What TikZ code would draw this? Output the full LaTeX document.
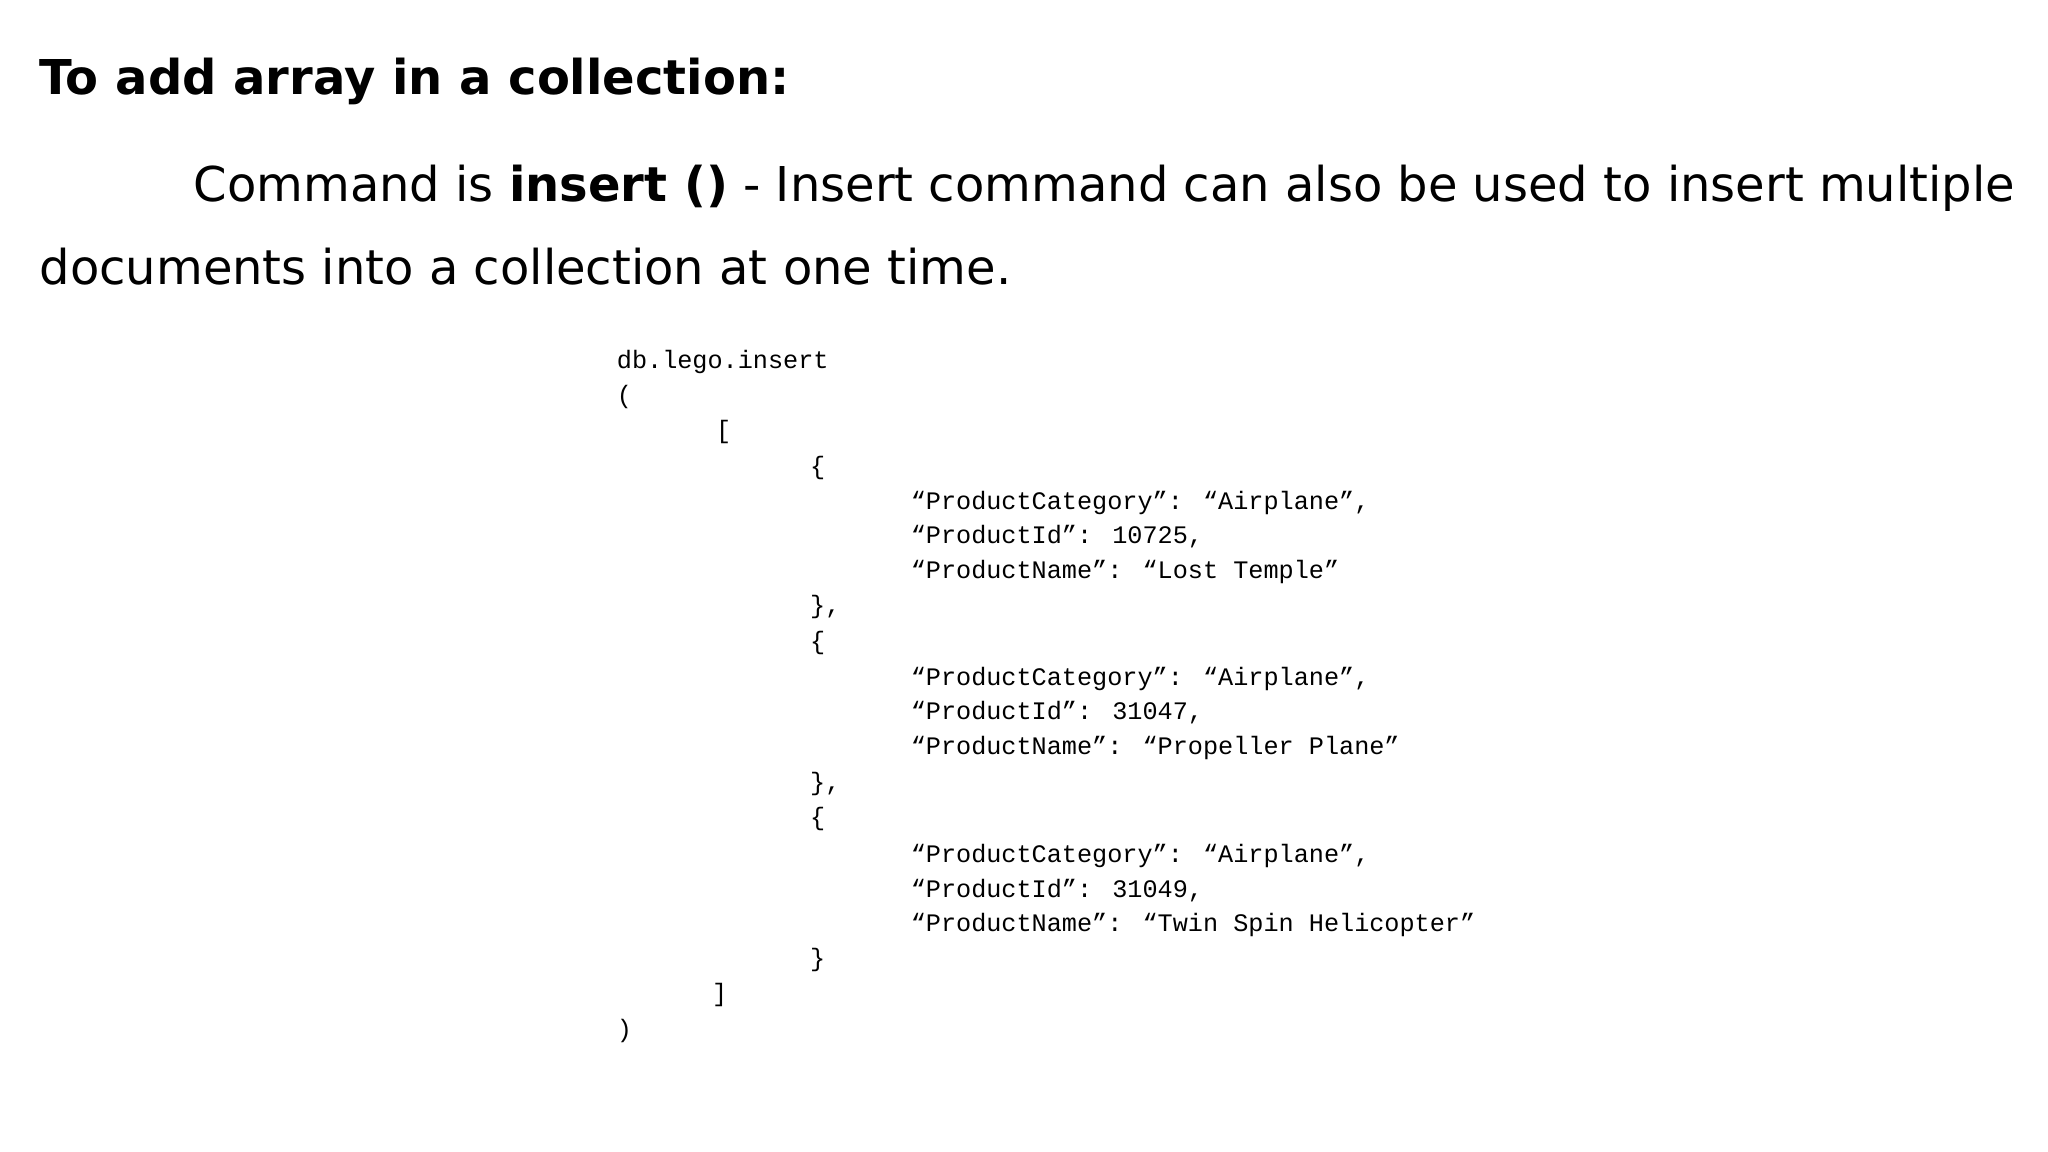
\documentclass[tikz,border=0pt]{standalone}
\usepackage{fontspec}
\setmainfont{DejaVu Sans}
\newfontfamily\codefont{Liberation Mono}
\begin{document}
\begin{tikzpicture}[x=0.6531pt,y=-0.6531pt,
  txt/.style={anchor=base west,inner sep=0pt,font=\fontsize{24}{28}\selectfont},
  code/.style={anchor=base west,inner sep=0pt,font=\codefont\fontsize{12.6}{14}\selectfont}]
\useasboundingbox[fill=white] (0,0) rectangle (1568,882);
\node[txt,font=\bfseries\fontsize{24}{28}\selectfont] (t) at (30,72) {To add array in a collection:};
\node[txt] (l1) at (148,154) {Command is \textbf{insert ()} - Insert command can also be used to insert multiple};
\node[txt] (l2) at (30,218) {documents into a collection at one time.};
\foreach \n/\xx/\yy/\s in {
 c1/472/282/{db.lego.insert},
 c2/472/309/{(},
 c3/548/336/{[},
 c4/620/363/{\{},
 c5/697/390/{“ProductCategory”: “Airplane”,},
 c6/697/416/{“ProductId”: 10725,},
 c7/697/443/{“ProductName”: “Lost Temple”},
 c8/620/470/{\},},
 c9/620/497/{\{},
 c10/697/525/{“ProductCategory”: “Airplane”,},
 c11/697/551/{“ProductId”: 31047,},
 c12/697/578/{“ProductName”: “Propeller Plane”},
 c13/620/605/{\},},
 c14/620/632/{\{},
 c15/697/660/{“ProductCategory”: “Airplane”,},
 c16/697/687/{“ProductId”: 31049,},
 c17/697/713/{“ProductName”: “Twin Spin Helicopter”},
 c18/620/740/{\}},
 c19/545/767/{]},
 c20/472/794/{)}}
 \node[code] (\n) at (\xx,\yy) {\s};
\end{tikzpicture}
\end{document}
